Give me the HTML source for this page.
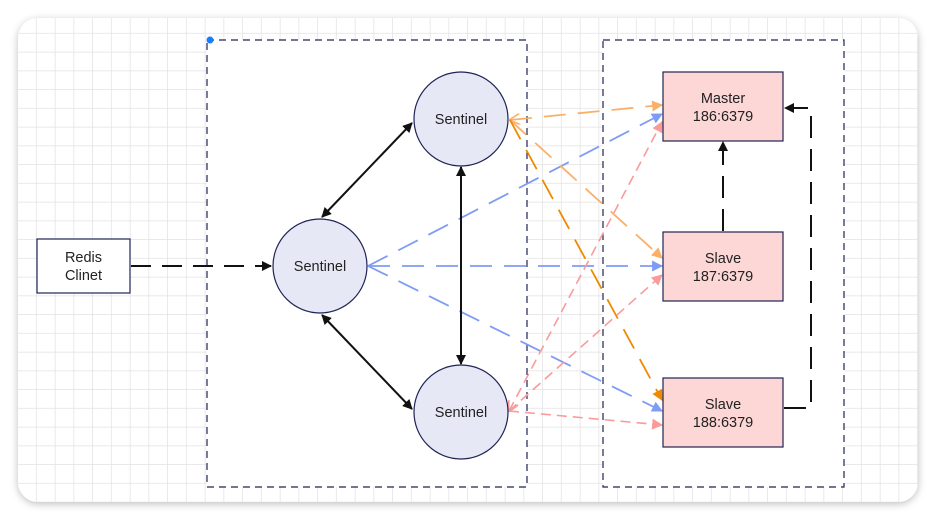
<!DOCTYPE html>
<html><head><meta charset="utf-8"><style>
html,body{margin:0;padding:0;background:#fff;width:936px;height:520px;overflow:hidden}
svg{display:block}
text{font-family:"Liberation Sans",sans-serif;font-size:14.5px;fill:#222}
</style></head><body>
<svg width="936" height="520" viewBox="0 0 936 520">
<defs>
<pattern id="g" x="18" y="15" width="18.75" height="18.75" patternUnits="userSpaceOnUse">
<path d="M18.75 0V18.75H0" fill="none" stroke="#e2e2e2" stroke-width="1.5"/>
</pattern>
<filter id="sh" x="-5%" y="-5%" width="110%" height="110%"><feDropShadow dx="0" dy="2" stdDeviation="4" flood-color="#000" flood-opacity="0.25"/></filter>
<marker id="ak" viewBox="0 0 10 10" refX="9" refY="5" markerWidth="10" markerHeight="10" markerUnits="userSpaceOnUse" orient="auto-start-reverse"><path d="M0,0L10,5L0,10z" fill="#111"/></marker>
<marker id="ab" viewBox="0 0 10 10" refX="9" refY="5" markerWidth="11" markerHeight="11" markerUnits="userSpaceOnUse" orient="auto-start-reverse"><path d="M0,0L10,5L0,10z" fill="#7f9cf5"/></marker>
<marker id="ao" viewBox="0 0 10 10" refX="9" refY="5" markerWidth="11" markerHeight="11" markerUnits="userSpaceOnUse" orient="auto-start-reverse"><path d="M0,0L10,5L0,10z" fill="#fbb06a"/></marker>
<marker id="ad" viewBox="0 0 10 10" refX="9" refY="5" markerWidth="11" markerHeight="11" markerUnits="userSpaceOnUse" orient="auto-start-reverse"><path d="M0,0L10,5L0,10z" fill="#ee8a00"/></marker>
<marker id="ap" viewBox="0 0 10 10" refX="9" refY="5" markerWidth="11" markerHeight="11" markerUnits="userSpaceOnUse" orient="auto-start-reverse"><path d="M0,0L10,5L0,10z" fill="#fa9a9a"/></marker>
<marker id="op" viewBox="0 0 10 10" refX="9" refY="5" markerWidth="11" markerHeight="11" markerUnits="userSpaceOnUse" orient="auto-start-reverse"><path d="M0,0L10,5L0,10" fill="none" stroke="#fa9a9a" stroke-width="1.5"/></marker>
<marker id="oo" viewBox="0 0 10 10" refX="9" refY="5" markerWidth="11" markerHeight="11" markerUnits="userSpaceOnUse" orient="auto-start-reverse"><path d="M0,0L10,5L0,10" fill="none" stroke="#fbb06a" stroke-width="1.5"/></marker>
</defs>
<rect x="18" y="18" width="900" height="484" rx="20" fill="#fff" filter="url(#sh)"/>
<rect x="18" y="18" width="900" height="484" rx="20" fill="url(#g)"/>
<rect x="207" y="40" width="320" height="447" fill="#fff" stroke="#1f2455" stroke-width="1.2" stroke-dasharray="7,5"/>
<rect x="603" y="40" width="241" height="447" fill="#fff" stroke="#1f2455" stroke-width="1.2" stroke-dasharray="7,5"/>
<circle cx="210" cy="40" r="3.5" fill="#1a7cff"/>

<g stroke="#7f9cf5" stroke-width="1.8" fill="none" stroke-dasharray="22,12">
<line x1="368" y1="266" x2="662" y2="114" marker-end="url(#ab)"/>
<line x1="368" y1="266" x2="662" y2="266" marker-end="url(#ab)"/>
<line x1="368" y1="266" x2="662" y2="411" marker-end="url(#ab)"/>
</g>
<g stroke-width="1.8" fill="none" stroke-dasharray="22,12">
<line x1="510" y1="120" x2="662" y2="105" stroke="#fbb06a" marker-end="url(#ao)" marker-start="url(#oo)"/>
<line x1="510" y1="120" x2="662" y2="258" stroke="#fbb06a" marker-end="url(#ao)"/>
<line x1="510" y1="120" x2="662" y2="400" stroke="#ee8a00" marker-end="url(#ad)"/>
</g>
<g stroke="#fa9a9a" stroke-width="1.6" fill="none" stroke-dasharray="10,6">
<line x1="509" y1="411" x2="662" y2="122" marker-end="url(#ap)" marker-start="url(#op)"/>
<line x1="509" y1="411" x2="662" y2="275" marker-end="url(#ap)"/>
<line x1="509" y1="411" x2="662" y2="425" marker-end="url(#ap)"/>
</g>
<g stroke="#111" stroke-width="2" fill="none">
<line x1="322" y1="217" x2="412" y2="123" marker-end="url(#ak)" marker-start="url(#ak)"/>
<line x1="322" y1="315" x2="412" y2="409" marker-end="url(#ak)" marker-start="url(#ak)"/>
<line x1="461" y1="167" x2="461" y2="364" marker-end="url(#ak)" marker-start="url(#ak)"/>
<line x1="131" y1="266" x2="271" y2="266" stroke-dasharray="20,11" marker-end="url(#ak)"/>
<line x1="723" y1="231" x2="723" y2="142" stroke-dasharray="22,11" marker-end="url(#ak)"/>
<polyline points="784,408 811,408 811,108 785,108" stroke-dasharray="22,11" marker-end="url(#ak)"/>
</g>

<g fill="#e6e8f6" stroke="#1f2455" stroke-width="1.2">
<circle cx="461" cy="119" r="47"/>
<circle cx="320" cy="266" r="47"/>
<circle cx="461" cy="412" r="47"/>
</g>
<text x="461" y="124" text-anchor="middle">Sentinel</text>
<text x="320" y="271" text-anchor="middle">Sentinel</text>
<text x="461" y="417" text-anchor="middle">Sentinel</text>

<rect x="37" y="239" width="93" height="54" fill="#fff" stroke="#1f2455" stroke-width="1.2"/>
<text x="83.5" y="262" text-anchor="middle">Redis</text>
<text x="83.5" y="280" text-anchor="middle">Clinet</text>

<g fill="#fdd6d6" stroke="#1f2455" stroke-width="1.2">
<rect x="663" y="72" width="120" height="69"/>
<rect x="663" y="232" width="120" height="69"/>
<rect x="663" y="378" width="120" height="69"/>
</g>
<text x="723" y="103" text-anchor="middle">Master</text>
<text x="723" y="121" text-anchor="middle">186:6379</text>
<text x="723" y="263" text-anchor="middle">Slave</text>
<text x="723" y="281" text-anchor="middle">187:6379</text>
<text x="723" y="409" text-anchor="middle">Slave</text>
<text x="723" y="427" text-anchor="middle">188:6379</text>
</svg>
</body></html>
